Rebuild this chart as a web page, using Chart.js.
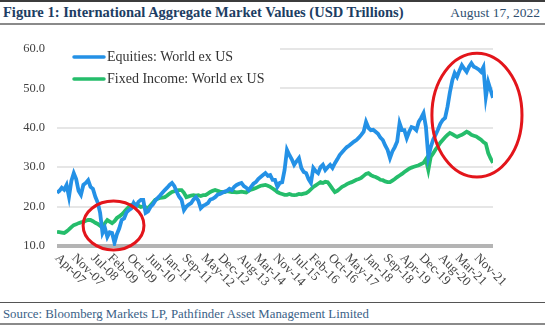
<!DOCTYPE html>
<html>
<head>
<meta charset="utf-8">
<script src="https://cdn.jsdelivr.net/npm/chart.js@4.4.1/dist/chart.umd.min.js"></script>
<style>
    body { margin: 0; width: 545px; height: 325px; background: #fff; overflow: hidden; position: relative; font-family: "Liberation Serif", serif; }
    .linha { position: absolute; left: 0; width: 545px; }
    #titulo { position: absolute; left: 3px; top: 4px; font-size: 14.5px; font-weight: bold; color: #1c3d63; white-space: nowrap; }
    #dataRel { position: absolute; right: 5px; top: 5px; font-size: 13.5px; color: #2f4f70; }
    #fonte { position: absolute; left: 3px; top: 307px; font-size: 12.8px; color: #3a6186; white-space: nowrap; }
    #wrap { position: absolute; left: 0; top: 26px; }
</style>
</head>
<body>
<div class="linha" style="top:0;height:2px;background:#3c3c3c"></div>
<div id="titulo">Figure 1: International Aggregate Market Values (USD Trillions)</div>
<div id="dataRel">August 17, 2022</div>
<div class="linha" style="top:23px;height:2px;background:#8a8a8a"></div>
<div id="wrap"><canvas id="chartValores" width="545" height="274"></canvas></div>
<div class="linha" style="top:302px;height:1px;background:#555"></div>
<div id="fonte">Source: Bloomberg Markets LP, Pathfinder Asset Management Limited</div>
<div class="linha" style="top:323px;height:2px;background:#8a8a8a"></div>

<script>
// monthly values, Apr-07 .. Jun-22 (USD trillions)
var equities = [
    23.5, 24.0, 24.8, 24.3, 25.5, 22.5, 26.5, 28.5, 27.0, 24.0, 23.0, 25.5,
    26.0, 26.7, 25.0, 24.5, 22.5, 21.0, 18.4, 13.3, 14.6, 12.3, 13.5, 13.3,
    10.8, 13.0, 14.5, 16.6, 17.0, 18.5, 19.1, 19.5, 20.9, 20.0, 21.2, 21.7,
    21.7, 18.4, 18.8, 19.9, 20.5, 21.5, 22.2, 22.8, 23.5, 24.2, 24.8, 25.5,
    26.0, 25.2, 23.7, 22.5, 21.7, 19.1, 20.0, 20.5, 20.9, 21.8, 22.4, 21.5,
    19.6, 20.2, 20.5, 20.9, 21.8, 22.0, 22.4, 23.0, 23.2, 23.5, 23.8, 24.0,
    24.5, 24.2, 25.0, 25.5, 25.8, 26.0, 25.2, 24.8, 24.2, 25.0, 25.8, 26.2,
    27.0, 27.5, 28.0, 28.5, 27.8, 28.0, 26.8, 26.8, 25.0, 26.0, 26.2, 29.3,
    34.4, 33.1, 32.0, 30.6, 31.5, 32.3, 29.8, 28.8, 28.5, 27.0, 26.0, 29.8,
    29.0, 28.5, 30.0, 30.6, 29.3, 30.0, 30.6, 29.8, 31.0, 32.0, 33.1, 33.8,
    34.5, 35.1, 35.5, 36.0, 36.5, 36.9, 37.5, 38.2, 39.0, 41.5, 40.0, 39.4,
    39.5, 39.0, 38.5, 37.5, 36.9, 35.5, 34.4, 32.3, 34.0, 35.1, 36.5, 41.2,
    39.4, 39.4, 37.4, 39.0, 40.2, 40.0, 39.4, 41.5, 42.5, 43.7, 40.2, 32.6,
    35.0, 37.0, 38.2, 39.5, 41.0, 42.0, 42.5, 45.3, 49.0, 52.0, 53.9, 52.9,
    54.5, 55.9, 55.0, 54.2, 55.5, 56.4, 55.5, 55.2, 54.8, 54.2, 55.4, 47.8,
    51.6, 49.6, 47.6
];

var fixedIncome = [
    13.6, 13.5, 13.4, 13.3, 13.7, 14.2, 14.8, 15.3, 15.5, 15.8, 16.0, 16.1,
    16.4, 16.6, 16.6, 16.3, 15.9, 15.6, 15.1, 14.6, 15.8, 16.6, 16.2, 15.8,
    16.3, 17.1, 17.5, 18.0, 18.6, 19.3, 19.9, 20.4, 20.6, 20.5, 20.2, 19.9,
    20.1, 19.8, 19.6, 20.3, 21.0, 21.7, 22.0, 22.2, 22.3, 22.4, 22.8, 23.3,
    23.7, 23.9, 24.1, 24.2, 24.2, 23.5, 22.4, 22.6, 22.8, 22.9, 22.8, 22.9,
    22.7, 22.9, 22.9, 23.3, 23.7, 24.0, 24.2, 24.0, 23.8, 23.7, 23.7, 23.9,
    23.8, 23.7, 23.7, 23.6, 23.7, 23.8, 23.7, 23.6, 24.0, 24.3, 24.5, 24.7,
    25.0, 25.3, 25.4, 25.5, 25.3, 25.0, 24.6, 24.2, 23.7, 23.4, 23.2, 23.0,
    23.0, 23.2, 23.0, 22.9, 23.0, 23.2, 23.1, 23.3, 23.4, 23.8, 24.4, 25.0,
    25.4, 25.8, 26.2, 26.0, 26.3, 26.2, 25.4, 24.5, 23.7, 24.0, 24.5, 25.0,
    25.3, 25.7, 26.0, 26.2, 26.5, 26.8, 27.0, 27.3, 27.8, 28.3, 28.5, 28.0,
    27.7, 27.5, 27.2, 26.8, 26.7, 26.4, 26.2, 26.2, 26.6, 27.0, 27.5, 27.9,
    28.3, 28.8, 29.2, 29.6, 29.9, 30.1, 30.3, 30.5, 30.8, 31.1, 32.0, 29.3,
    32.6, 33.5, 34.5, 35.3, 36.2, 36.9, 37.6, 38.2, 38.7, 38.4, 38.0, 37.7,
    38.0, 38.2, 38.6, 39.0, 38.7, 38.2, 38.0, 37.8, 37.4, 37.0, 36.4, 36.0,
    33.6, 32.2, 31.1
];

var seriesNames = ["Equities: World ex US", "Fixed Income: World ex US"];
var seriesColors = ["#2491e6", "#25bd6b"];

var tickLabels = ["Apr-07", "Nov-07", "Jul-08", "Feb-09", "Oct-09", "Jun-10", "Jan-11", "Sep-11",
    "May-12", "Dec-12", "Aug-13", "Mar-14", "Nov-14", "Jul-15", "Feb-16", "Oct-16",
    "May-17", "Jan-18", "Sep-18", "Apr-19", "Dec-19", "Aug-20", "Mar-21", "Nov-21"];

var yTicks = [10, 20, 30, 40, 50, 60];

// red circles: centre (month index, value) and radii (months, value)
var highlights = [
    { x: 23.6, y: 15.2, rx: 12.7, ry: 6.2 },
    { x: 175.3, y: 43.2, rx: 18.8, ry: 15.7 }
];

var nomesMes = ["Jan", "Feb", "Mar", "Apr", "May", "Jun", "Jul", "Aug", "Sep", "Oct", "Nov", "Dec"];
var meses = [];
for (var i = 0; i < equities.length; i++) {
    var m = 3 + i;
    var ano = 7 + Math.floor(m / 12);
    meses.push(nomesMes[m % 12] + "-" + (ano < 10 ? "0" + ano : ano));
}

function montaPontos(valores) {
    var pts = [];
    for (var i = 0; i < valores.length; i++) {
        pts.push({ x: i, y: valores[i] });
    }
    return pts;
}

var extras = {
    id: "extras",
    beforeDatasetsDraw: function (chart) {
        var ctx = chart.ctx;
        var area = chart.chartArea;
        ctx.save();
        ctx.fillStyle = "#fff";
        ctx.fillRect(area.left, area.top - 4, 223, 46);
        ctx.restore();
    },
    afterDatasetsDraw: function (chart) {
        var ctx = chart.ctx;
        var xs = chart.scales.x;
        var ys = chart.scales.y;
        ctx.save();
        ctx.strokeStyle = "#e3151b";
        ctx.lineWidth = 3;
        highlights.forEach(function (h) {
            var cx = xs.getPixelForValue(h.x);
            var cy = ys.getPixelForValue(h.y);
            var rx = Math.abs(xs.getPixelForValue(h.x + h.rx) - cx);
            var ry = Math.abs(ys.getPixelForValue(h.y + h.ry) - cy);
            ctx.beginPath();
            ctx.ellipse(cx, cy, rx, ry, 0, 0, Math.PI * 2);
            ctx.stroke();
        });
        ctx.restore();
    },
    afterDraw: function (chart) {
        var ctx = chart.ctx;
        var area = chart.chartArea;
        var xs = chart.scales.x;
        ctx.save();

        // legend
        ctx.font = "14px 'Liberation Serif', serif";
        ctx.textBaseline = "middle";
        ctx.textAlign = "left";
        chart.data.datasets.forEach(function (ds, i) {
            var yy = area.top + 8 + i * 22;
            ctx.strokeStyle = ds.borderColor;
            ctx.lineWidth = 3.5;
            ctx.lineCap = "round";
            ctx.beginPath();
            ctx.moveTo(area.left + 17, yy);
            ctx.lineTo(area.left + 47, yy);
            ctx.stroke();
            ctx.fillStyle = "#333";
            ctx.fillText(ds.label, area.left + 50, yy);
        });

        // x labels, turned 45 degrees
        ctx.font = "13px 'Liberation Serif', serif";
        ctx.fillStyle = "#444";
        tickLabels.forEach(function (lab) {
            var pos = meses.indexOf(lab);
            var px = xs.getPixelForValue(pos);
            ctx.save();
            ctx.translate(px, area.bottom + 10);
            ctx.rotate(Math.PI / 4);
            ctx.textAlign = "left";
            ctx.textBaseline = "middle";
            ctx.fillText(lab, 0, 0);
            ctx.restore();
        });
        ctx.restore();
    }
};

var ctx = document.getElementById("chartValores");

new Chart(ctx, {
    type: "line",
    data: {
        datasets: [
            {
                label: seriesNames[0],
                data: montaPontos(equities),
                borderColor: seriesColors[0],
                backgroundColor: seriesColors[0],
                borderWidth: 3.8,
                pointRadius: 0,
                tension: 0
            },
            {
                label: seriesNames[1],
                data: montaPontos(fixedIncome),
                borderColor: seriesColors[1],
                backgroundColor: seriesColors[1],
                borderWidth: 3.8,
                pointRadius: 0,
                tension: 0
            }
        ]
    },
    options: {
        responsive: false,
        animation: false,
        layout: { padding: { top: 23, right: 52, bottom: 54, left: 0 } },
        plugins: {
            legend: { display: false },
            tooltip: { enabled: false }
        },
        scales: {
            x: {
                type: "linear",
                min: 0,
                max: equities.length - 1,
                display: false
            },
            y: {
                min: yTicks[0],
                max: yTicks[yTicks.length - 1],
                afterFit: function (s) { s.width = 57; },
                afterBuildTicks: function (s) {
                    s.ticks = yTicks.map(function (v) { return { value: v }; });
                },
                border: { display: false },
                grid: {
                    drawTicks: false,
                    color: function (c) { return c.tick && c.tick.value === yTicks[0] ? "#b4b4b4" : "#e6e6e6"; },
                    lineWidth: function (c) { return c.tick && c.tick.value === yTicks[0] ? 4 : 2; }
                },
                ticks: {
                    padding: 12,
                    color: "#404040",
                    font: { family: "'Liberation Serif', serif", size: 12.5 },
                    callback: function (v) { return v.toFixed(1); }
                }
            }
        }
    },
    plugins: [extras]
});
</script>
</body>
</html>
